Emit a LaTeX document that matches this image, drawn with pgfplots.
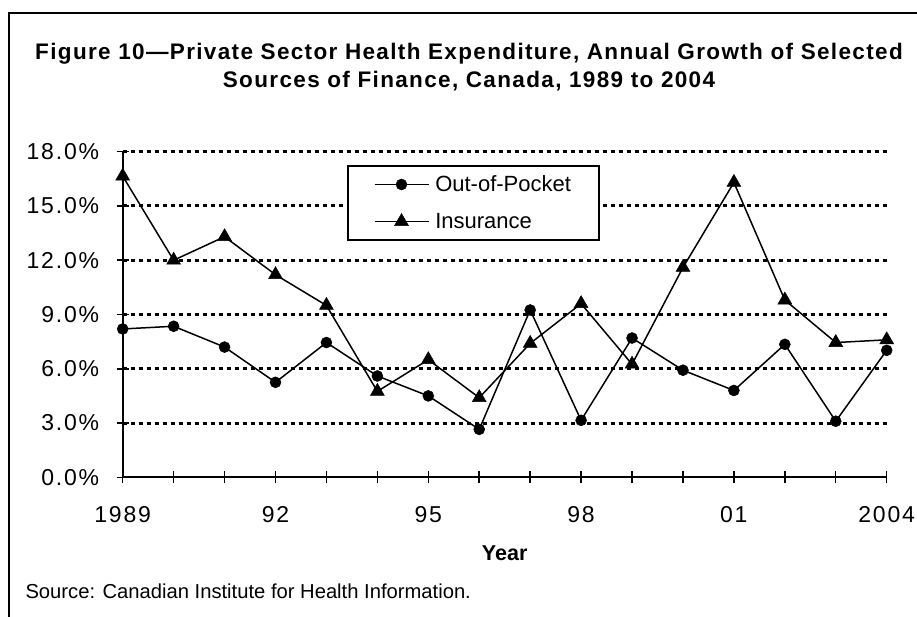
\documentclass[border=0pt]{standalone}
\usepackage{fontspec}
\usepackage{graphicx}
\setmainfont{Liberation Sans}
\newfontfamily\tickfont{Liberation Sans}[LetterSpace=8]
\newfontfamily\titlefont{Liberation Sans}[LetterSpace=6]
\usepackage{pgfplots}
\pgfplotsset{compat=1.18}
\begin{document}
\begin{tikzpicture}
\path[use as bounding box] (0bp,0bp) rectangle (917bp,617bp);
\draw[line width=2bp] (8.5bp,0bp) -- (8.5bp,604bp) -- (917bp,604bp);
\node[anchor=base, font=\titlefont\bfseries\fontsize{22.5bp}{26bp}\selectfont] at (469bp,557bp) {Figure 10—Private Sector Health Expenditure, Annual Growth of Selected};
\node[anchor=base, font=\titlefont\bfseries\fontsize{22.5bp}{26bp}\selectfont] at (469bp,529bp) {Sources of Finance, Canada, 1989 to 2004};
\node[anchor=base west, font=\fontsize{20.2bp}{24bp}\selectfont] at (22bp,19bp) {Source: Canadian Institute for Health Information.};
\begin{axis}[
  at={(122.7bp,139.7bp)}, anchor=south west,
  scale only axis, width=764bp, height=325.6bp,
  xmin=1989, xmax=2004, ymin=0, ymax=18,
  axis x line*=bottom, axis y line*=left,
  axis line style={-, line width=1.7bp},
  xtick={1989,...,2004},
  xticklabels={1989,,,92,,,95,,,98,,,01,,,2004},
  ytick={3,6,...,18},
  extra y ticks={0},
  extra y tick style={grid=none},
  yticklabel={\pgfmathprintnumber[fixed,fixed zerofill,precision=1]{\tick}\%},
  /pgf/number format/assume math mode=true,
  tick label style={font=\tickfont\fontsize{23bp}{26bp}\selectfont},
  xticklabel style={yshift=-20bp},
  yticklabel style={xshift=-14bp},
  tick align=center, major tick length=12bp,
  major tick style={line width=1.5bp, black},
  ymajorgrids,
  major grid style={line width=3bp, dash pattern=on 4bp off 4bp, black},
  xlabel={\bfseries Year},
  xlabel style={at={(axis description cs:0.5,-0.255)}, anchor=base, font=\fontsize{21.5bp}{24bp}\selectfont},
  clip=false,
  legend style={at={(0.2936,0.959)}, anchor=north west, draw=black, line width=1.5bp,
    font=\fontsize{22bp}{25bp}\selectfont, row sep=16bp, inner xsep=26bp, inner ysep=8bp},
  legend cell align=left,
  legend image code/.code={\draw[mark repeat=2,mark phase=2,#1] plot coordinates {(0bp,0bp) (27bp,0bp) (54bp,0bp)}; \path (58bp,0bp);},
]
\addplot[black, line width=1.5bp, mark=*, mark size=5.5bp, mark options={solid, line width=0.5bp}] coordinates {
(1989,8.2) (1990,8.35) (1991,7.2) (1992,5.25) (1993,7.45) (1994,5.6) (1995,4.5) (1996,2.65)
(1997,9.25) (1998,3.15) (1999,7.7) (2000,5.92) (2001,4.8) (2002,7.35) (2003,3.1) (2004,7.02)};
\addlegendentry{Out-of-Pocket}
\addplot[black, line width=1.5bp, mark=triangle*, mark size=8bp, mark options={solid, line width=0.5bp}] coordinates {
(1989,16.65) (1990,12.0) (1991,13.3) (1992,11.2) (1993,9.5) (1994,4.75) (1995,6.5) (1996,4.4)
(1997,7.4) (1998,9.6) (1999,6.25) (2000,11.6) (2001,16.3) (2002,9.8) (2003,7.45) (2004,7.6)};
\addlegendentry{Insurance}
\end{axis}
\end{tikzpicture}
\end{document}
